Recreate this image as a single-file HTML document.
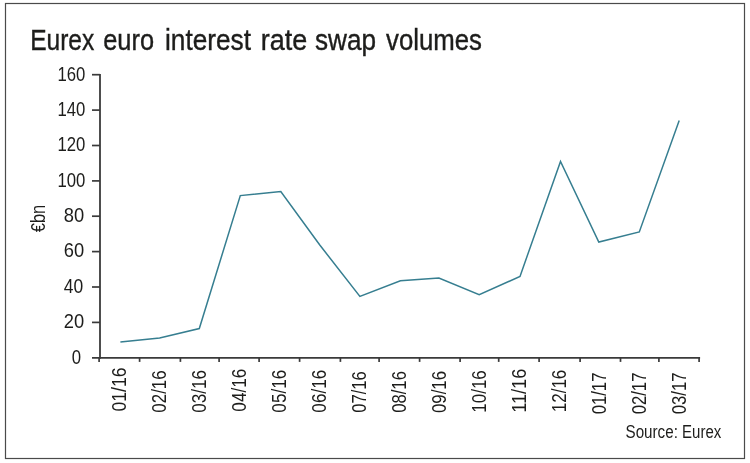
<!DOCTYPE html>
<html lang="en"><head><meta charset="utf-8"><title>Eurex euro interest rate swap volumes</title>
<style>
html,body{margin:0;padding:0;background:#fff;}
body{width:750px;height:463px;overflow:hidden;}
svg{display:block;font-family:"Liberation Sans",sans-serif;}
text{fill:#1d1d1b;}
</style></head><body>
<svg width="750" height="463" viewBox="0 0 750 463">
<rect x="0" y="0" width="750" height="463" fill="#ffffff"/>
<rect x="5.5" y="3.5" width="739" height="455" fill="none" stroke="#4a4a4a" stroke-width="1.2"/>
<g font-size="30.2" stroke="#1d1d1b" stroke-width="0.4">
<text x="30.17" y="49.8" textLength="64.07" lengthAdjust="spacingAndGlyphs">Eurex</text>
<text x="103.18" y="49.8" textLength="50.85" lengthAdjust="spacingAndGlyphs">euro</text>
<text x="164.99" y="49.8" textLength="86.01" lengthAdjust="spacingAndGlyphs">interest</text>
<text x="260.70" y="49.8" textLength="46.55" lengthAdjust="spacingAndGlyphs">rate</text>
<text x="314.96" y="49.8" textLength="61.07" lengthAdjust="spacingAndGlyphs">swap</text>
<text x="386.00" y="49.8" textLength="96.01" lengthAdjust="spacingAndGlyphs">volumes</text>
</g>
<g stroke="#3a3a3a" stroke-width="1.8" fill="none">
<path d="M100 73.9V358.7"/>
<path d="M92 357.8H700.1"/>
</g>
<g stroke="#3a3a3a" stroke-width="1.7" fill="none">
<path d="M92 322.4H100"/>
<path d="M92 287.0H100"/>
<path d="M92 251.6H100"/>
<path d="M92 216.2H100"/>
<path d="M92 180.9H100"/>
<path d="M92 145.5H100"/>
<path d="M92 110.1H100"/>
<path d="M92 74.7H100"/>
<path d="M99.1 357.8V361.9"/>
<path d="M139.6 357.8V361.9"/>
<path d="M180.4 357.8V361.9"/>
<path d="M219.1 357.8V361.9"/>
<path d="M259.1 357.8V361.9"/>
<path d="M299.6 357.8V361.9"/>
<path d="M340.4 357.8V361.9"/>
<path d="M379.1 357.8V361.9"/>
<path d="M419.6 357.8V361.9"/>
<path d="M460.1 357.8V361.9"/>
<path d="M498.7 357.8V361.9"/>
<path d="M539.1 357.8V361.9"/>
<path d="M580.1 357.8V361.9"/>
<path d="M620.5 357.8V361.9"/>
<path d="M658.9 357.8V361.9"/>
<path d="M699.1 357.8V361.9"/>
</g>
<g font-size="20.6">
<text x="71.82" y="363.6" textLength="9.32" lengthAdjust="spacingAndGlyphs">0</text>
<text x="63.73" y="328.2" textLength="20.39" lengthAdjust="spacingAndGlyphs">20</text>
<text x="63.71" y="292.8" textLength="19.43" lengthAdjust="spacingAndGlyphs">40</text>
<text x="63.73" y="257.4" textLength="20.39" lengthAdjust="spacingAndGlyphs">60</text>
<text x="63.73" y="222.1" textLength="20.39" lengthAdjust="spacingAndGlyphs">80</text>
<text x="57.52" y="186.7" textLength="27.90" lengthAdjust="spacingAndGlyphs">100</text>
<text x="57.52" y="151.3" textLength="27.90" lengthAdjust="spacingAndGlyphs">120</text>
<text x="57.52" y="115.9" textLength="27.90" lengthAdjust="spacingAndGlyphs">140</text>
<text x="57.52" y="80.5" textLength="27.90" lengthAdjust="spacingAndGlyphs">160</text>
</g>
<text transform="translate(44.8 232.30) rotate(-90)" font-size="20.5" textLength="27.55" lengthAdjust="spacingAndGlyphs">€bn</text>
<g font-size="20.0">
<text transform="translate(126.3 411.56) rotate(-90)" textLength="44.01" lengthAdjust="spacingAndGlyphs">01/16</text>
<text transform="translate(166.3 412.64) rotate(-90)" textLength="42.28" lengthAdjust="spacingAndGlyphs">02/16</text>
<text transform="translate(206.3 412.84) rotate(-90)" textLength="42.80" lengthAdjust="spacingAndGlyphs">03/16</text>
<text transform="translate(246.3 411.66) rotate(-90)" textLength="43.02" lengthAdjust="spacingAndGlyphs">04/16</text>
<text transform="translate(286.3 412.64) rotate(-90)" textLength="42.86" lengthAdjust="spacingAndGlyphs">05/16</text>
<text transform="translate(326.3 412.64) rotate(-90)" textLength="42.86" lengthAdjust="spacingAndGlyphs">06/16</text>
<text transform="translate(366.3 412.85) rotate(-90)" textLength="41.60" lengthAdjust="spacingAndGlyphs">07/16</text>
<text transform="translate(406.3 412.84) rotate(-90)" textLength="41.78" lengthAdjust="spacingAndGlyphs">08/16</text>
<text transform="translate(446.3 413.05) rotate(-90)" textLength="42.17" lengthAdjust="spacingAndGlyphs">09/16</text>
<text transform="translate(486.3 412.64) rotate(-90)" textLength="42.37" lengthAdjust="spacingAndGlyphs">10/16</text>
<text transform="translate(526.3 412.76) rotate(-90)" textLength="44.01" lengthAdjust="spacingAndGlyphs">11/16</text>
<text transform="translate(566.3 412.25) rotate(-90)" textLength="42.60" lengthAdjust="spacingAndGlyphs">12/16</text>
<text transform="translate(606.3 414.34) rotate(-90)" textLength="41.80" lengthAdjust="spacingAndGlyphs">01/17</text>
<text transform="translate(646.3 414.34) rotate(-90)" textLength="41.80" lengthAdjust="spacingAndGlyphs">02/17</text>
<text transform="translate(686.3 414.24) rotate(-90)" textLength="41.80" lengthAdjust="spacingAndGlyphs">03/17</text>
</g>
<path d="M120.4 341.9 L159.6 337.9 L199.3 328.5 L240.3 195.6 L280.8 191.6 L319.6 244.8 L359.9 296.4 L400.4 280.7 L438.9 278.0 L479.2 294.8 L520.0 276.4 L560.5 161.5 L598.8 242.0 L639.3 231.9 L679.2 120.5" fill="none" stroke="#367e90" stroke-width="1.5" stroke-linejoin="miter"/>
<text x="625.52" y="438.2" font-size="17.6" textLength="52.38" lengthAdjust="spacingAndGlyphs" fill="#222">Source:</text>
<text x="682.11" y="438.2" font-size="17.6" textLength="39.21" lengthAdjust="spacingAndGlyphs" fill="#222">Eurex</text>
</svg>
</body></html>
